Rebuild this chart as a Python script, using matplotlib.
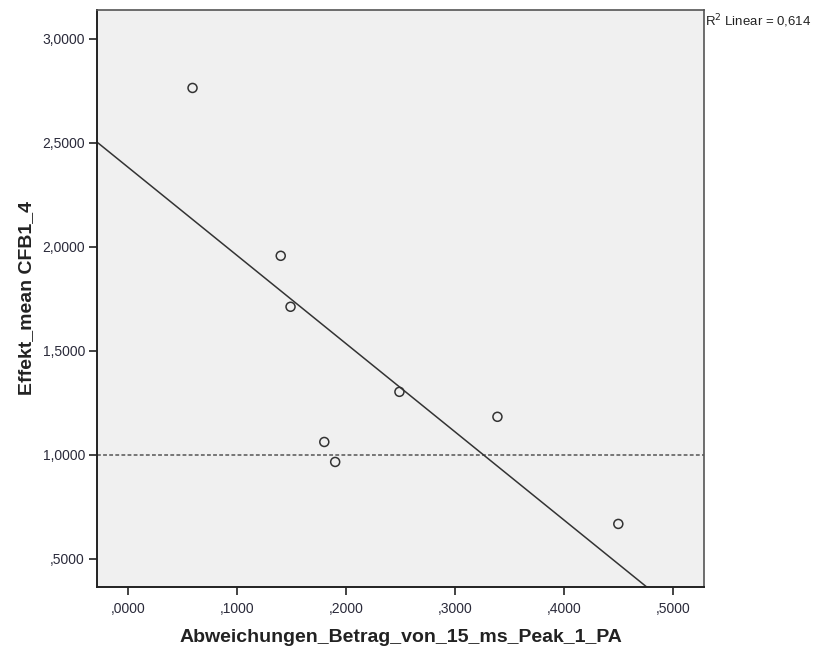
import numpy as np
import matplotlib.pyplot as plt
from matplotlib.ticker import FuncFormatter

plt.rcParams['font.family'] = ['Liberation Sans', 'DejaVu Sans']

# values
abweichung = [0.059, 0.140, 0.149, 0.249, 0.339, 0.180, 0.190, 0.450]
effekt = [2.764, 1.957, 1.712, 1.303, 1.183, 1.062, 0.966, 0.668]
reference_level = 1.0
r2_label = 0.614
x_ticks = [0.0, 0.1, 0.2, 0.3, 0.4, 0.5]
y_ticks = [0.5, 1.0, 1.5, 2.0, 2.5, 3.0]


def spss_fmt(v, pos=None):
    s = f"{v:.4f}".replace('.', ',')
    if s.startswith('0,'):
        s = s[1:]
    return s


fig = plt.figure(figsize=(8.19, 6.5), dpi=100)
ax = fig.add_axes([0.119, 0.097, 0.7406, 0.8877])
ax.set_facecolor('#f0f0f0')

xlim = (-0.0283, 0.5287)
ylim = (0.365, 3.139)
ax.set_xlim(xlim)
ax.set_ylim(ylim)

# linear fit
slope, intercept = np.polyfit(abweichung, effekt, 1)
xs = np.array(xlim)
ax.plot(xs, intercept + slope * xs, color='#333333', lw=1.1, zorder=2)

# reference line
ax.axhline(reference_level, color='#555555', lw=1.1, ls=(0, (2.5, 1.5)), zorder=1)

ax.scatter(abweichung, effekt, s=42, facecolors='none', edgecolors='#333333',
           linewidths=1.1, zorder=3)

ax.set_xticks(x_ticks)
ax.set_yticks(y_ticks)
ax.xaxis.set_major_formatter(FuncFormatter(spss_fmt))
ax.yaxis.set_major_formatter(FuncFormatter(spss_fmt))
ax.tick_params(direction='out', length=6, width=1.2, color='#222222',
               labelsize=10, labelcolor='#2a2a3a')
ax.tick_params(axis='x', pad=5)
ax.tick_params(axis='y', pad=3)

for side in ['left', 'bottom']:
    ax.spines[side].set_color('#222222')
    ax.spines[side].set_linewidth(1.4)
for side in ['top', 'right']:
    ax.spines[side].set_color('#555555')
    ax.spines[side].set_linewidth(1.2)

ax.set_xlabel('Abweichungen_Betrag_von_15_ms_Peak_1_PA', fontsize=14,
              fontweight='bold', color='#222222', labelpad=9)
ax.set_ylabel('Effekt_mean CFB1_4', fontsize=14, fontweight='bold',
              color='#222222', labelpad=5)

fig.text(0.861, 0.967, 'R$^2$ Linear = ' + f"{r2_label:.3f}".replace('.', ','),
         fontsize=9.5, color='#222222', ha='left', va='center')

fig.savefig('out.png', dpi=100)
